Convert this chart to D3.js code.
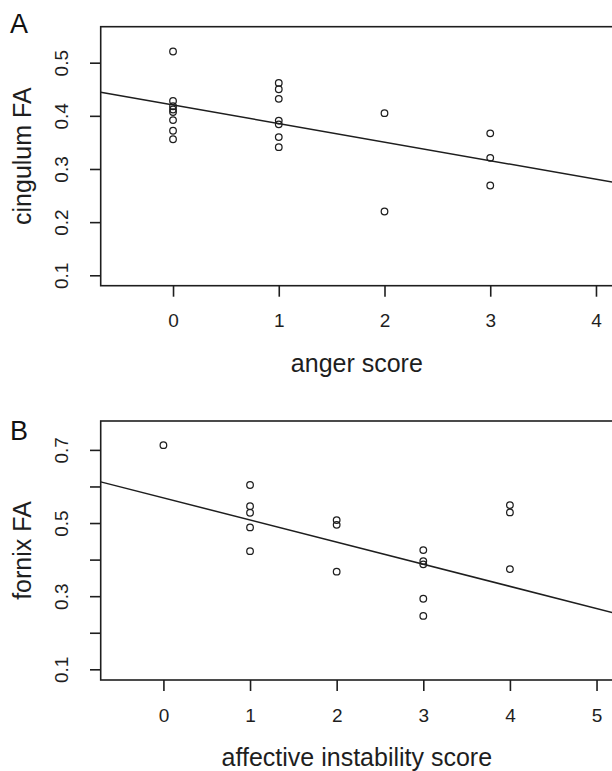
<!DOCTYPE html>
<html>
<head>
<meta charset="utf-8">
<script src="https://cdn.jsdelivr.net/npm/d3@7"></script>
<style>
  html, body { margin: 0; padding: 0; background: #fff; }
  svg { display: block; font-family: "Liberation Sans", Arial, sans-serif; }
</style>
</head>
<body>
<div id="chart"></div>
<script>
// ---------- data ----------
const panelLabels = ["A", "B"];

// Panel A: anger score vs cingulum FA
const angerScore = [0, 0, 0, 0, 0, 0, 0, 0, 1, 1, 1, 1, 1, 1, 1, 2, 2, 3, 3, 3];
const cingulumFA = [0.521, 0.428, 0.418, 0.412, 0.407, 0.392, 0.372, 0.356,
                    0.462, 0.450, 0.432, 0.391, 0.384, 0.360, 0.341,
                    0.405, 0.220,
                    0.367, 0.321, 0.269];
const fitA = [0.4203, -0.0349];           // intercept, slope of drawn regression line
const xTicksA = [0, 1, 2, 3, 4];
const yTicksA = [0.1, 0.2, 0.3, 0.4, 0.5];
const yTickLabelsA = ["0.1", "0.2", "0.3", "0.4", "0.5"];
const xTitleA = "anger score";
const yTitleA = "cingulum FA";

// Panel B: affective instability score vs fornix FA
const affectiveScore = [0, 1, 1, 1, 1, 1, 2, 2, 2, 3, 3, 3, 3, 3, 4, 4, 4];
const fornixFA = [0.713,
                  0.604, 0.546, 0.528, 0.488, 0.423,
                  0.508, 0.495, 0.367,
                  0.426, 0.396, 0.387, 0.293, 0.246,
                  0.549, 0.529, 0.374];
const fitB = [0.5688, -0.0605];
const xTicksB = [0, 1, 2, 3, 4, 5];
const yTicksB = [0.1, 0.2, 0.3, 0.4, 0.5, 0.6, 0.7];
const yTickLabelsB = ["0.1", "", "0.3", "", "0.5", "", "0.7"];
const xTitleB = "affective instability score";
const yTitleB = "fornix FA";

// ---------- layout ----------
const W = 612, H = 771;
const ink = "#1e1e1e";
const svg = d3.select("#chart").append("svg")
  .attr("width", W).attr("height", H).attr("viewBox", `0 0 ${W} ${H}`);

const panels = [
  { label: panelLabels[0], xs: angerScore, ys: cingulumFA, fit: fitA,
    xTicks: xTicksA, yTicks: yTicksA, yLabels: yTickLabelsA,
    xTitle: xTitleA, yTitle: yTitleA,
    xDomain: [-0.684, 4.161], yDomain: [0.0804, 0.5677],
    left: 100.7, right: 613, top: 26.7, bottom: 285.7, labelY: 33 },
  { label: panelLabels[1], xs: affectiveScore, ys: fornixFA, fit: fitB,
    xTicks: xTicksB, yTicks: yTicksB, yLabels: yTickLabelsB,
    xTitle: xTitleB, yTitle: yTitleB,
    xDomain: [-0.724, 5.19], yDomain: [0.0708, 0.779],
    left: 100.7, right: 613, top: 421, bottom: 680, labelY: 440 }
];

panels.forEach((p, pi) => {
  const x = d3.scaleLinear().domain(p.xDomain).range([p.left, p.right]);
  const y = d3.scaleLinear().domain(p.yDomain).range([p.bottom, p.top]);
  const g = svg.append("g");

  // clip to plot region
  const clipId = "clip" + pi;
  svg.append("clipPath").attr("id", clipId).append("rect")
    .attr("x", p.left).attr("y", p.top)
    .attr("width", p.right - p.left).attr("height", p.bottom - p.top);

  // regression line
  const xd = x.domain();
  g.append("line")
    .attr("clip-path", `url(#${clipId})`)
    .attr("x1", x(xd[0])).attr("y1", y(p.fit[0] + p.fit[1] * xd[0]))
    .attr("x2", x(xd[1])).attr("y2", y(p.fit[0] + p.fit[1] * xd[1]))
    .attr("stroke", ink).attr("stroke-width", 1.5);

  // points
  g.selectAll("circle.pt").data(p.xs.map((v, i) => [v, p.ys[i]]))
    .enter().append("circle").attr("class", "pt")
    .attr("cx", d => x(d[0])).attr("cy", d => y(d[1]))
    .attr("r", 3.3).attr("fill", "none")
    .attr("stroke", ink).attr("stroke-width", 1.25);

  // box
  g.append("rect")
    .attr("x", p.left).attr("y", p.top)
    .attr("width", p.right - p.left).attr("height", p.bottom - p.top)
    .attr("fill", "none").attr("stroke", ink).attr("stroke-width", 1.6);

  // x axis
  const xa = g.append("g").attr("transform", `translate(0,${p.bottom})`)
    .call(d3.axisBottom(x).tickValues(p.xTicks).tickSize(11).tickSizeOuter(0)
      .tickFormat(d3.format("d")));
  xa.select(".domain").remove();
  xa.selectAll(".tick line").attr("stroke", ink).attr("stroke-width", 1.6);
  xa.selectAll(".tick text").attr("y", 41.6).attr("dy", null)
    .attr("fill", ink).style("font-size", "19px")
    .style("font-family", '"Liberation Sans", Arial, sans-serif');

  // y axis
  const ya = g.append("g").attr("transform", `translate(${p.left},0)`)
    .call(d3.axisLeft(y).tickValues(p.yTicks).tickSize(10.7).tickSizeOuter(0)
      .tickFormat((d, i) => p.yLabels[i]));
  ya.select(".domain").remove();
  ya.selectAll(".tick line").attr("stroke", ink).attr("stroke-width", 1.6);
  ya.selectAll(".tick text")
    .attr("x", null).attr("dy", null)
    .attr("transform", "translate(-32.7,0) rotate(-90)")
    .attr("text-anchor", "middle")
    .attr("fill", ink).style("font-size", "19px")
    .style("font-family", '"Liberation Sans", Arial, sans-serif');

  // titles
  g.append("text")
    .attr("x", (p.left + p.right) / 2).attr("y", p.bottom + 86.3)
    .attr("text-anchor", "middle").attr("fill", ink)
    .style("font-size", "25px").text(p.xTitle);
  g.append("text")
    .attr("transform", `translate(30.7,${(p.top + p.bottom) / 2}) rotate(-90)`)
    .attr("text-anchor", "middle").attr("fill", ink)
    .style("font-size", "25px").text(p.yTitle);

  // panel letter
  g.append("text")
    .attr("x", 10).attr("y", p.labelY)
    .attr("fill", "#111").style("font-size", "27px").text(p.label);
});
</script>
</body>
</html>
